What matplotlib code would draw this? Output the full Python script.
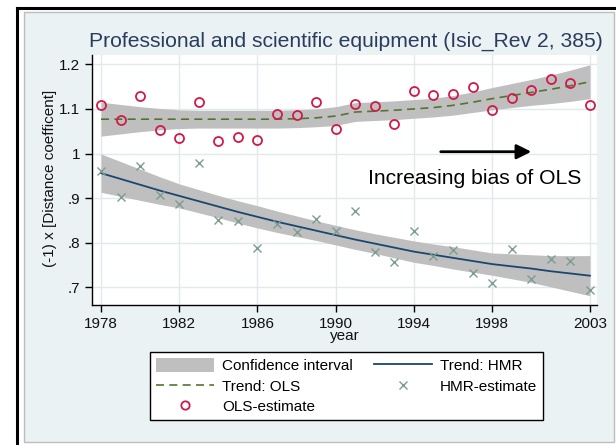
import matplotlib
matplotlib.use("Agg")
import matplotlib.pyplot as plt
from matplotlib.lines import Line2D
from matplotlib.patches import Rectangle, Patch
import numpy as np

plt.rcParams['font.family'] = ['Liberation Sans', 'DejaVu Sans']

years = list(range(1978, 2004))

ols_est = [1.108, 1.076, 1.130, 1.052, 1.035, 1.115, 1.027, 1.037, 1.030, 1.088,
           1.086, 1.115, 1.056, 1.112, 1.106, 1.067, 1.140, 1.131, 1.133, 1.150,
           1.097, 1.125, 1.142, 1.168, 1.159, 1.108]
hmr_est = [0.960, 0.902, 0.971, 0.906, 0.887, 0.978, 0.852, 0.849, 0.787, 0.843,
           0.823, 0.854, 0.827, 0.870, 0.779, 0.756, 0.827, 0.771, 0.784, 0.731,
           0.709, 0.786, 0.719, 0.763, 0.760, 0.694]
hmr_trend = [0.956, 0.943, 0.930, 0.917, 0.905, 0.893, 0.881, 0.869, 0.858, 0.847,
             0.837, 0.827, 0.817, 0.807, 0.798, 0.789, 0.780, 0.773, 0.766, 0.759,
             0.752, 0.747, 0.742, 0.736, 0.731, 0.726]
hmr_ci_half = [0.043, 0.039, 0.035, 0.031, 0.027, 0.026, 0.025, 0.025, 0.025, 0.024,
               0.023, 0.022, 0.022, 0.022, 0.022, 0.023, 0.024, 0.024, 0.025, 0.025,
               0.025, 0.028, 0.031, 0.035, 0.040, 0.045]
ols_trend = [1.077, 1.077, 1.077, 1.077, 1.077, 1.077, 1.077, 1.077, 1.077, 1.077,
             1.078, 1.080, 1.084, 1.093, 1.095, 1.097, 1.100, 1.103, 1.108, 1.115,
             1.123, 1.130, 1.137, 1.144, 1.152, 1.161]
ols_ci_half = [0.038, 0.033, 0.028, 0.024, 0.021, 0.020, 0.020, 0.020, 0.020, 0.020,
               0.020, 0.020, 0.021, 0.021, 0.021, 0.021, 0.021, 0.021, 0.022, 0.023,
               0.025, 0.027, 0.029, 0.032, 0.035, 0.038]

xticks = [1978, 1982, 1986, 1990, 1994, 1998, 2003]
yticks = [0.7, 0.8, 0.9, 1.0, 1.1, 1.2]
ytick_labels = [".7", ".8", ".9", "1", "1.1", "1.2"]

title = "Professional and scientific equipment (Isic_Rev 2, 385)"
ylabel = "(-1) x [Distance coefficent]"
xlabel = "year"
note = "Increasing bias of OLS"

W, H = 616, 445
fig = plt.figure(figsize=(W / 100, H / 100), dpi=100)
fig.patch.set_facecolor('white')

def fx(px):
    return px / W

def fy(py):
    return 1 - py / H

# graph region (light blue-gray box) and outer black frame
fig.add_artist(Rectangle((fx(24), fy(442)), fx(614) - fx(24), fy(12) - fy(442),
                         transform=fig.transFigure, facecolor='#eaf2f3',
                         edgecolor='#bdbdbd', lw=1.0, zorder=0))
fig.add_artist(Line2D([fx(17), fx(17)], [0, fy(7.5)], transform=fig.transFigure,
                      color='black', lw=2.2, zorder=1))
fig.add_artist(Line2D([fx(17), 1], [fy(7.5), fy(7.5)], transform=fig.transFigure,
                      color='black', lw=2.2, zorder=1))

ax = fig.add_axes([fx(92), fy(305), fx(597) - fx(92), fy(55) - fy(305)])
ax.set_facecolor('white')
ax.set_xlim(1977.54, 2003.36)
ax.set_ylim(0.6603, 1.2209)

yrs = np.array(years)
ht = np.array(hmr_trend); hh = np.array(hmr_ci_half)
ot = np.array(ols_trend); oh = np.array(ols_ci_half)

band_color = '#bfbfbf'
ax.fill_between(yrs, ht - hh, ht + hh, color=band_color, lw=0, zorder=2)
ax.fill_between(yrs, ot - oh, ot + oh, color=band_color, lw=0, zorder=2)
ax.plot(yrs, ht, color='#1a476f', lw=1.3, zorder=3)
ax.plot(yrs, ot, color='#55752f', lw=1.2, dashes=(4.8, 3.2), zorder=3)
ax.plot(yrs, hmr_est, ls='none', marker='x', ms=6, mew=1.0, color='#7d9c92', zorder=4)
ax.plot(yrs, ols_est, ls='none', marker='o', ms=6.5, mfc='none', mew=1.3,
        mec='#d01a48', zorder=4)

ax.set_xticks(xticks)
ax.set_xticklabels([str(t) for t in xticks])
ax.set_yticks(yticks)
ax.set_yticklabels(ytick_labels)
ax.grid(True, color='#e0eaed', lw=1.0, zorder=0)
ax.set_axisbelow(True)
for s in ['top', 'right']:
    ax.spines[s].set_visible(False)
for s in ['left', 'bottom']:
    ax.spines[s].set_color('black')
    ax.spines[s].set_linewidth(1.0)
ax.tick_params(axis='both', direction='out', length=5, width=1, color='black',
               labelsize=11, labelcolor='#111111', pad=3.5)

fig.text(fx(345), fy(336), xlabel, ha='center', va='center', fontsize=11, color='#111111')
fig.text(fx(50), fy(178), ylabel, ha='center', va='center', rotation=90,
         fontsize=11, color='#111111')
fig.text(fx(345.5), fy(41), title, ha='center', va='center', fontsize=15.2,
         color='#2b3c5e')

# annotation
arrow_start = (1995.37, 1.004)
arrow_end = (2000.0, 1.004)
ax.annotate('', xy=arrow_end, xytext=arrow_start,
            arrowprops=dict(arrowstyle='-|>', color='black', lw=2.0,
                            mutation_scale=22, shrinkA=0, shrinkB=0), zorder=5)
ax.text(1991.65, 0.945, note, fontsize=15.2, ha='left', va='center', color='black', zorder=5)

handles = [Patch(facecolor=band_color, edgecolor='none'),
           Line2D([], [], color='#55752f', lw=1.2, dashes=(4.8, 3.2)),
           Line2D([], [], ls='none', marker='o', ms=6, mfc='none', mew=1.3, mec='#d01a48'),
           Line2D([], [], color='#1a476f', lw=1.3),
           Line2D([], [], ls='none', marker='x', ms=6, mew=1.0, color='#7d9c92')]
labels = ['Confidence interval', 'Trend: OLS', 'OLS-estimate', 'Trend: HMR', 'HMR-estimate']
leg = fig.legend(handles, labels, ncol=2, loc='upper center',
                 bbox_to_anchor=(fx(346.5), fy(352)), bbox_transform=fig.transFigure,
                 borderaxespad=0, fontsize=11, frameon=True,
                 fancybox=False, edgecolor='black', framealpha=1,
                 handlelength=3.8, handleheight=1.0, handletextpad=0.5,
                 columnspacing=1.4, labelspacing=0.35, borderpad=0.4)
leg.get_frame().set_linewidth(1.0)

fig.savefig('out.png', dpi=100, facecolor='white')
